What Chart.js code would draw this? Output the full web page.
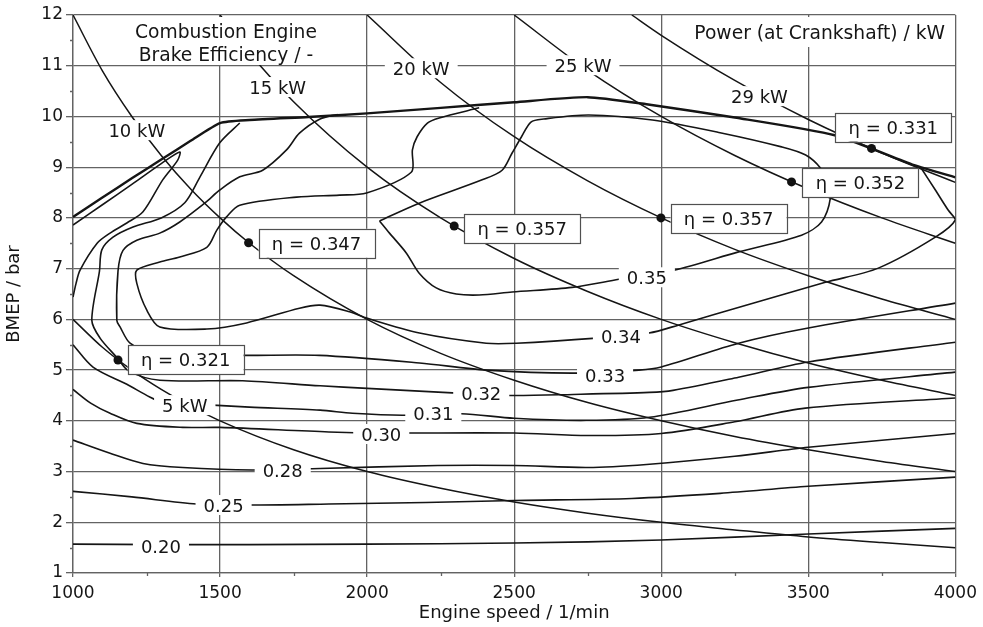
<!DOCTYPE html>
<html><head><meta charset="utf-8">
<script src="https://cdn.jsdelivr.net/npm/chart.js@4.4.1/dist/chart.umd.min.js"></script>
<style>html,body{margin:0;padding:0;background:#fff}#wrap{width:983px;height:627px;position:relative}</style>
</head><body><div id="wrap"><canvas id="c"></canvas></div>
<script>
// ---- axis ticks ----
const speedTicks = [1000,1500,2000,2500,3000,3500,4000];
const bmepTicks = [1,2,3,4,5,6,7,8,9,10,11,12];
const speedMinor = [1250,1750,2250,2750,3250,3750];
const bmepMinor = [1.5,2.5,3.5,4.5,5.5,6.5,7.5,8.5,9.5,10.5,11.5];

// ---- full-load (max BMEP) curve [rpm, bar] ----
const fullLoad = [[1000,8.02],[1100,8.4],[1200,8.78],[1300,9.15],[1400,9.52],[1500,9.87],[1600,9.93],[1800,9.99],[2000,10.06],[2250,10.17],[2500,10.28],[2750,10.38],[2950,10.24],[3250,9.98],[3590,9.63],[3860,9.04],[4000,8.8]];

// ---- constant power lines ----
const kw5  = [[1000,6.0],[1100,5.45],[1200,5.0],[1300,4.62],[1400,4.29],[1500,4.0],[1750,3.43],[2000,3.0],[2250,2.67],[2500,2.4],[2750,2.18],[3000,2.0],[3250,1.85],[3500,1.71],[3750,1.6],[4000,1.5]];
const kw10 = [[1000,12.0],[1100,10.9],[1200,10.0],[1300,9.23],[1400,8.57],[1500,8.0],[1600,7.5],[1750,6.86],[2000,6.0],[2250,5.33],[2500,4.8],[2750,4.36],[3000,4.0],[3250,3.69],[3500,3.43],[3750,3.2],[4000,3.0]];
const kw15 = [[1500,12.0],[1600,11.25],[1750,10.29],[2000,9.0],[2250,8.0],[2500,7.2],[2750,6.55],[3000,6.0],[3250,5.54],[3500,5.14],[3750,4.8],[4000,4.5]];
const kw20 = [[2000,12.0],[2250,10.67],[2500,9.6],[2750,8.73],[3000,8.0],[3250,7.38],[3500,6.86],[3750,6.4],[4000,6.0]];
const kw25 = [[2500,12.0],[2750,10.91],[3000,10.0],[3250,9.23],[3500,8.57],[3750,8.0],[4000,7.5]];
const kw29 = [[2900,12.0],[3000,11.6],[3250,10.71],[3500,9.94],[3750,9.28],[4000,8.7]];

// ---- brake efficiency contours ----
const eta020 = [[1000,1.57],[1300,1.56],[1600,1.56],[2000,1.57],[2500,1.59],[3000,1.65],[3500,1.77],[4000,1.88]];
const eta025 = [[1000,2.61],[1200,2.5],[1420,2.36],[1600,2.34],[1870,2.36],[2200,2.39],[2500,2.43],[2900,2.47],[3200,2.57],[3500,2.71],[4000,2.89]];
const eta028 = [[1000,3.62],[1126,3.36],[1238,3.16],[1373,3.08],[1610,3.03],[1840,3.06],[2240,3.12],[2500,3.12],[2750,3.08],[2950,3.14],[3250,3.3],[3500,3.48],[4000,3.75]];
const eta030 = [[1000,4.62],[1060,4.35],[1126,4.15],[1217,3.95],[1373,3.87],[1500,3.87],[1870,3.78],[2050,3.76],[2500,3.76],[2750,3.71],[3000,3.75],[3250,3.98],[3490,4.25],[4000,4.45]];
const eta031 = [[1000,5.5],[1068,5.06],[1183,4.72],[1261,4.47],[1300,4.38],[1475,4.31],[1600,4.27],[1840,4.21],[1950,4.15],[2120,4.11],[2320,4.14],[2500,4.05],[2745,4.01],[2960,4.07],[3260,4.41],[3500,4.66],[4000,4.96]];
const eta032 = [[1567,9.87],[1499,9.48],[1431,8.8],[1380,8.3],[1300,8.0],[1204,7.82],[1136,7.62],[1098,7.37],[1090,6.95],[1064,5.98],[1092,5.63],[1149,5.25],[1190,4.98],[1295,4.8],[1577,4.79],[1840,4.69],[2000,4.64],[2290,4.55],[2483,4.5],[2700,4.52],[2960,4.56],[3040,4.6],[3263,4.86],[3500,5.16],[4000,5.55]];
const eta033 = [[1900,10.04],[1840,9.95],[1770,9.67],[1726,9.34],[1645,8.94],[1567,8.81],[1499,8.55],[1450,8.3],[1363,7.92],[1295,7.7],[1217,7.56],[1170,7.36],[1153,6.95],[1149,5.98],[1160,5.85],[1194,5.53],[1260,5.38],[1400,5.31],[1577,5.29],[1838,5.29],[2178,5.14],[2405,5.0],[2697,4.94],[2924,5.0],[3000,5.06],[3263,5.53],[3500,5.83],[4000,6.32]];
const eta034 = [[2381,10.17],[2245,9.97],[2205,9.87],[2170,9.6],[2154,9.34],[2150,8.9],[1998,8.49],[1906,8.45],[1760,8.41],[1567,8.25],[1522,8.02],[1489,7.76],[1455,7.42],[1363,7.23],[1295,7.13],[1217,6.97],[1217,6.71],[1251,6.18],[1295,5.85],[1455,5.81],[1590,5.93],[1770,6.22],[1840,6.28],[1940,6.15],[2001,6.02],[2178,5.73],[2405,5.53],[2507,5.53],[2780,5.63],[2958,5.73],[3060,5.89],[3300,6.3],[3558,6.73],[3738,7.01],[3932,7.62],[4000,7.96],[3976,8.15],[3932,8.55],[3884,8.98]];
const eta035 = [[2042,7.94],[2177,8.29],[2391,8.75],[2459,8.94],[2493,9.28],[2524,9.59],[2557,9.89],[2600,9.95],[2754,10.03],[2970,9.93],[3200,9.68],[3409,9.4],[3491,9.24],[3542,8.98],[3565,8.7],[3575,8.39],[3545,7.92],[3477,7.66],[3263,7.33],[3043,6.97],[2856,6.79],[2697,6.63],[2493,6.54],[2381,6.48],[2303,6.5],[2235,6.62],[2177,6.91],[2133,7.31],[2076,7.7],[2042,7.94]];
const etaTongue = [[1000,7.86],[1100,8.26],[1200,8.66],[1300,9.07],[1363,9.3],[1356,9.14],[1305,8.75],[1238,8.12],[1183,7.9],[1126,7.7],[1082,7.5],[1024,6.97],[1010,6.7],[1000,6.44]];

// ---- best-efficiency points on the power lines ----
const etaPoints = [[1153,5.2],[1597,7.51],[2296,7.84],[2999,8.0],[3443,8.71],[3715,9.37]];
const etaValues = ['0.321','0.347','0.357','0.357','0.352','0.331'];
const etaBoxAt  = [[1383,5.2],[1828,7.5],[2527,7.79],[3229,7.98],[3677,8.69],[3789,9.79]];

// ---- in-line labels [text, rpm, bar] ----
const curveLabels = [
  ['5 kW',1380,4.31],['10 kW',1217,9.73],['15 kW',1696,10.58],['20 kW',2184,10.95],['25 kW',2734,11.01],['29 kW',3334,10.40],
  ['0.35',2951,6.83],['0.34',2863,5.67],['0.33',2809,4.90],['0.32',2388,4.54],['0.31',2225,4.15],['0.30',2048,3.74],['0.28',1713,3.03],['0.25',1512,2.34],['0.20',1299,1.53]
];

const FONT = '"DejaVu Sans", sans-serif';
const INK = '#151515';
const GRID = '#636363';
const pts = a => a.map(p => ({x:p[0], y:p[1]}));

function powerSet(d){ return {data:pts(d), showLine:true, borderColor:INK, borderWidth:1.5, pointRadius:0, cubicInterpolationMode:'monotone', fill:false}; }
function contourSet(d){ return {data:pts(d), showLine:true, borderColor:INK, borderWidth:1.6, pointRadius:0, tension:0.3, fill:false}; }

const datasets = [
  powerSet(kw5), powerSet(kw10), powerSet(kw15), powerSet(kw20), powerSet(kw25), powerSet(kw29),
  contourSet(eta020), contourSet(eta025), contourSet(eta028), contourSet(eta030), contourSet(eta031),
  contourSet(eta032), contourSet(eta033), contourSet(eta034), contourSet(eta035), contourSet(etaTongue),
  Object.assign(contourSet(fullLoad), {borderWidth:2.4, tension:0.2}),
  {data:pts(etaPoints), showLine:false, pointRadius:4.5, pointBackgroundColor:'#111', pointBorderColor:'#111', pointBorderWidth:0}
];

const overlay = {
  id:'overlay',
  afterDraw(chart){
    // minor ticks outside the axes
    const {ctx, scales:{x, y}, chartArea:a} = chart;
    ctx.save();
    ctx.strokeStyle = GRID; ctx.lineWidth = 1.3;
    ctx.beginPath();
    for (const v of speedMinor){ const px = Math.round(x.getPixelForValue(v)) + 0.5; ctx.moveTo(px, a.bottom); ctx.lineTo(px, a.bottom + 3); }
    for (const v of bmepMinor){ const py = Math.round(y.getPixelForValue(v)) + 0.5; ctx.moveTo(a.left, py); ctx.lineTo(a.left - 3, py); }
    ctx.stroke();
    ctx.restore();
  },
  afterDatasetsDraw(chart){
    const {ctx, scales:{x, y}} = chart;
    ctx.save();
    ctx.font = '18px ' + FONT;
    ctx.textAlign = 'center';
    ctx.textBaseline = 'alphabetic';
    for (const [t, sx, sy] of curveLabels){
      const px = x.getPixelForValue(sx), py = y.getPixelForValue(sy);
      const w = ctx.measureText(t).width;
      ctx.fillStyle = '#fff';
      ctx.fillRect(px - w/2 - 8, py - 10, w + 16, 20);
      ctx.fillStyle = INK;
      ctx.fillText(t, px, py + 6.5);
    }
    etaValues.forEach((v, i) => {
      const px = x.getPixelForValue(etaBoxAt[i][0]), py = y.getPixelForValue(etaBoxAt[i][1]);
      const bw = 116, bh = 29;
      ctx.fillStyle = '#fff';
      ctx.fillRect(px - bw/2, py - bh/2, bw, bh);
      ctx.strokeStyle = '#505050'; ctx.lineWidth = 1.2;
      ctx.strokeRect(Math.round(px - bw/2) + 0.5, Math.round(py - bh/2) + 0.5, bw, bh);
      ctx.fillStyle = INK;
      ctx.fillText('\u03B7 = ' + v, px, py + 6.5);
    });
    ctx.font = '18.7px ' + FONT;
    const t1 = 'Combustion Engine', t2 = 'Brake Efficiency / -';
    const w1 = Math.max(ctx.measureText(t1).width, ctx.measureText(t2).width);
    ctx.fillStyle = '#fff';
    ctx.fillRect(226 - w1/2 - 5, 17, w1 + 10, 48);
    ctx.fillStyle = INK;
    ctx.fillText(t1, 226, 38);
    ctx.fillText(t2, 226, 61);
    const t3 = 'Power (at Crankshaft) / kW';
    const w3 = ctx.measureText(t3).width;
    ctx.textAlign = 'right';
    ctx.fillStyle = '#fff';
    ctx.fillRect(945 - w3 - 5, 17, w3 + 10, 30);
    ctx.fillStyle = INK;
    ctx.fillText(t3, 945, 39);
    ctx.restore();
  }
};

new Chart(document.getElementById('c'), {
  type:'scatter',
  data:{datasets},
  options:{
    responsive:true, maintainAspectRatio:false, animation:false,
    layout:{padding:{left:0, right:26, top:15, bottom:0}},
    plugins:{legend:{display:false}, tooltip:{enabled:false}},
    scales:{
      x:{type:'linear', min:1000, max:4000,
        afterBuildTicks(s){ s.ticks = speedTicks.map(v => ({value:v})); },
        afterFit(s){ s.height = 54; },
        ticks:{font:{family:FONT, size:17}, color:INK, padding:6, maxRotation:0, callback:v => String(v)},
        grid:{color:GRID, lineWidth:1.3, tickLength:4, tickColor:GRID},
        border:{color:GRID, width:1.3},
        title:{display:true, text:'Engine speed / 1/min', font:{family:FONT, size:18}, color:INK, padding:{top:0, bottom:3}}
      },
      y:{type:'linear', min:1, max:12,
        afterBuildTicks(s){ s.ticks = bmepTicks.map(v => ({value:v})); },
        afterFit(s){ s.width = 73; },
        ticks:{font:{family:FONT, size:17}, color:INK, padding:3, callback:v => String(v)},
        grid:{color:GRID, lineWidth:1.3, tickLength:7, tickColor:GRID},
        border:{color:GRID, width:1.3},
        title:{display:true, text:'BMEP / bar', font:{family:FONT, size:18}, color:INK, padding:{top:4, bottom:0}}
      }
    }
  },
  plugins:[overlay]
});
</script></body></html>
